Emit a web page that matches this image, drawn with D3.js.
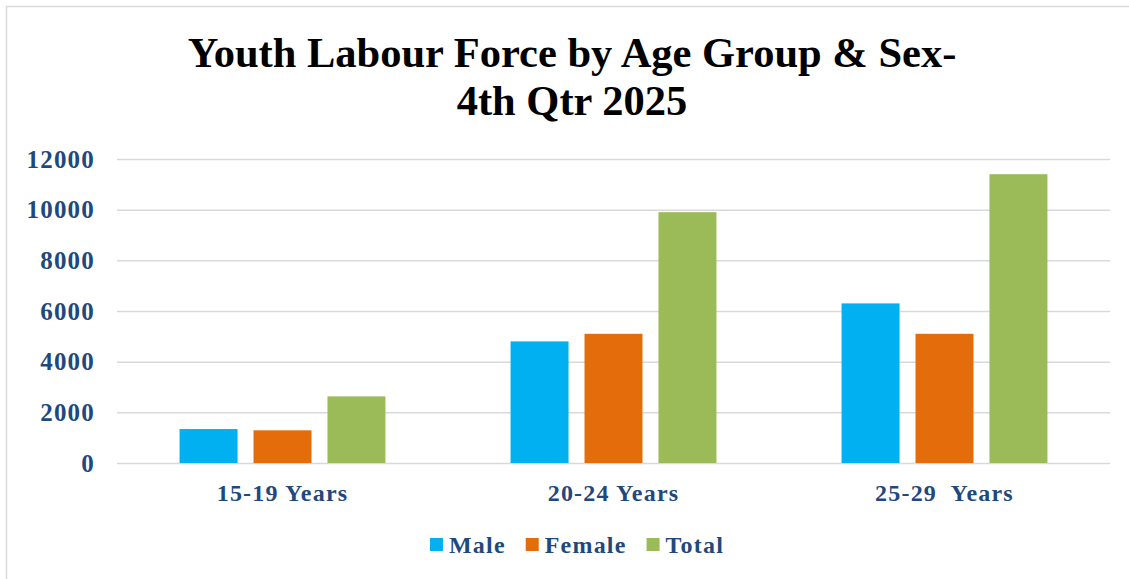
<!DOCTYPE html>
<html>
<head>
<meta charset="utf-8">
<script src="https://cdn.jsdelivr.net/npm/d3@7"></script>
<style>
  body { margin: 0; background: #fff; }
  text { font-family: "Liberation Serif", "Times New Roman", serif; font-weight: bold; }
  .lab { fill: #1f497d; letter-spacing: 1.2px; }
</style>
</head>
<body>
<div id="chart"></div>
<script>
  // values
  const categories = ["15-19 Years", "20-24 Years", "25-29  Years"],
    series = ["Male", "Female", "Total"],
    male = [1340, 4800, 6300],
    female = [1290, 5100, 5100],
    total = [2630, 9900, 11400],
    yTicks = [0, 2000, 4000, 6000, 8000, 10000, 12000],
    colors = ["#00b0f0", "#e46c0a", "#9bbb59"],
    titleLines = ["Youth Labour Force by Age Group & Sex-", "4th Qtr 2025"];

  const width = 1129, height = 579,
    margin = {top: 159, right: 19, bottom: 116, left: 117};

  const svg = d3.select("#chart").append("svg")
      .attr("width", width)
      .attr("height", height);

  // frame (only top and left edges show)
  svg.append("path")
      .attr("d", "M6.5," + height + "V6.5H" + width)
      .attr("fill", "none")
      .attr("stroke", "#d9d9d9")
      .attr("stroke-width", 1.5);

  // title
  svg.selectAll(".title")
    .data(titleLines)
    .enter().append("text")
      .attr("class", "title")
      .attr("x", 572)
      .attr("y", (d, i) => 67 + i * 48)
      .attr("text-anchor", "middle")
      .style("font-size", "42.5px")
      .style("fill", "#000")
      .text(d => d);

  const x0 = d3.scaleBand()
      .domain(categories)
      .range([margin.left, width - margin.right])
      .paddingInner(0.378)
      .paddingOuter(0.189);

  const x1 = d3.scaleBand()
      .domain(series)
      .range([0, x0.bandwidth()])
      .paddingInner(0.216);

  const y = d3.scaleLinear()
      .domain([0, 12000])
      .range([height - margin.bottom, margin.top]);

  //gridlines + tick labels
  const yAxis = svg.append("g")
      .attr("transform", "translate(" + margin.left + ",0)")
      .call(d3.axisLeft(y).tickValues(yTicks).tickFormat(d3.format("d"))
        .tickSize(-(width - margin.left - margin.right)).tickPadding(22));
  yAxis.select(".domain").remove();
  yAxis.selectAll("line").attr("stroke", "#d9d9d9").attr("stroke-width", 1.5);
  yAxis.selectAll("text")
      .attr("class", "lab")
      .attr("fill", null)
      .style("font-size", "25px")
      .attr("font-family", null);

  // x labels
  svg.selectAll(".catLabel")
    .data(categories)
    .enter().append("text")
      .attr("class", "catLabel lab")
      .attr("x", d => x0(d) + x0.bandwidth() / 2)
      .attr("y", 501)
      .attr("text-anchor", "middle")
      .style("font-size", "24px")
      .style("white-space", "pre")
      .text(d => d);

  // bars
  const rows = categories.map((c, i) => ({cat: c, vals: [male[i], female[i], total[i]]}));

  const groups = svg.selectAll(".group")
    .data(rows)
    .enter().append("g")
      .attr("class", "group")
      .attr("transform", d => "translate(" + x0(d.cat) + ",0)");

  groups.selectAll("rect")
    .data(d => d.vals.map((v, j) => ({s: series[j], v: v, c: colors[j]})))
    .enter().append("rect")
      .attr("x", d => x1(d.s))
      .attr("y", d => y(d.v))
      .attr("width", x1.bandwidth())
      .attr("height", d => y(0) - y(d.v))
      .attr("fill", d => d.c);

  // legend, centred under the plot
  const legend = svg.append("g").attr("class", "legend");
  let lx = 0;
  series.forEach(function(s, i){
    legend.append("rect")
        .attr("x", lx)
        .attr("y", -15)
        .attr("width", 13)
        .attr("height", 13)
        .attr("fill", colors[i]);
    const t = legend.append("text")
        .attr("class", "lab")
        .attr("x", lx + 19)
        .attr("y", 0)
        .style("font-size", "24px")
        .text(s);
    lx += 19 + t.node().getComputedTextLength() + 20;
  });
  lx -= 20;
  legend.attr("transform", "translate(" + (577 - lx / 2) + ",553)");
</script>
</body>
</html>
